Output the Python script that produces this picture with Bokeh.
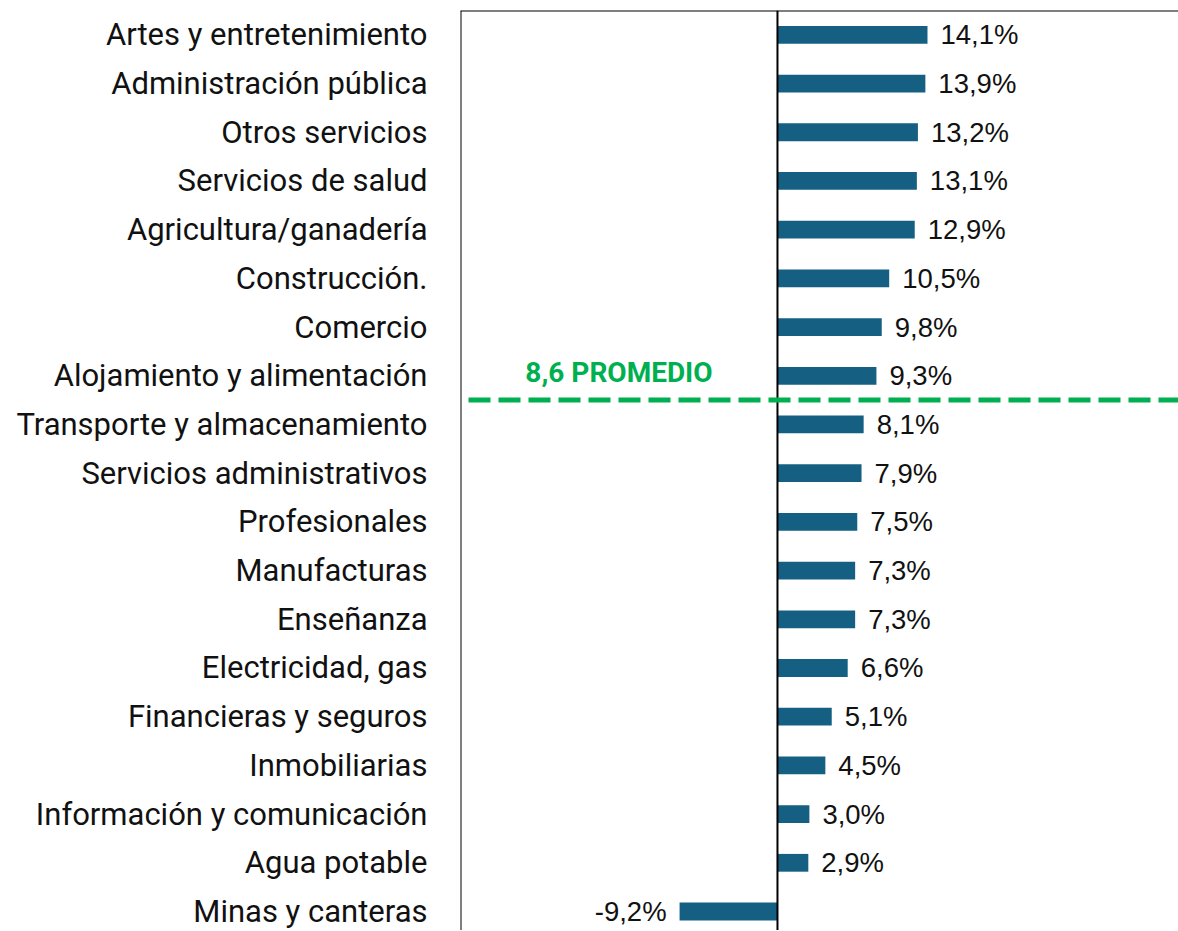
from bokeh.plotting import figure
from bokeh.models import Range1d, Span, FixedTicker, ColumnDataSource
from bokeh.core.properties import value
from bokeh.embed import file_html
from bokeh.resources import INLINE

categories = [
    "Artes y entretenimiento", "Administración pública", "Otros servicios",
    "Servicios de salud", "Agricultura/ganadería", "Construcción.", "Comercio",
    "Alojamiento y alimentación", "Transporte y almacenamiento",
    "Servicios administrativos", "Profesionales", "Manufacturas", "Enseñanza",
    "Electricidad, gas", "Financieras y seguros", "Inmobiliarias",
    "Información y comunicación", "Agua potable", "Minas y canteras",
]
values = [14.1, 13.9, 13.2, 13.1, 12.9, 10.5, 9.8, 9.3, 8.1, 7.9, 7.5, 7.3,
          7.3, 6.6, 5.1, 4.5, 3.0, 2.9, -9.2]
promedio = 8.6
promedio_label = "8,6 PROMEDIO"

BAR = "#156082"
GREEN = "#00B050"

idx = list(range(len(categories)))
labels = [f"{v:.1f}".replace(".", ",") + "%" for v in values]

x0, x1 = -29.79, 37.69
p = figure(width=1178, height=930, output_backend="svg", toolbar_location=None,
           x_range=Range1d(x0, x1), y_range=Range1d(18.39, -0.5),
           x_axis_location=None, min_border_left=460, min_border_right=0,
           min_border_top=10, min_border_bottom=0)
p.outline_line_color = None
p.xgrid.visible = False
p.ygrid.visible = False
p.background_fill_color = "white"
p.border_fill_color = "white"

ya = p.yaxis[0]
ya.ticker = FixedTicker(ticks=idx)
ya.major_label_overrides = {i: c for i, c in zip(idx, categories)}
ya.axis_line_color = None
ya.major_tick_line_color = None
ya.minor_tick_line_color = None
ya.major_tick_out = 0
ya.major_tick_in = 0
ya.major_label_standoff = 33
ya.major_label_text_font = "Roboto"
ya.major_label_text_font_size = "31px"
ya.major_label_text_color = "#111111"

src = ColumnDataSource(dict(y=idx, v=values, lab=labels))
p.hbar(y="y", left=0, right="v", height=0.365, source=src, color=BAR, line_color=None)

pos = ColumnDataSource(dict(y=[i for i in idx if values[i] >= 0],
                            v=[values[i] for i in idx if values[i] >= 0],
                            lab=[labels[i] for i in idx if values[i] >= 0]))
neg = ColumnDataSource(dict(y=[i for i in idx if values[i] < 0],
                            v=[values[i] for i in idx if values[i] < 0],
                            lab=[labels[i] for i in idx if values[i] < 0]))
common = dict(text_font=value("Liberation Sans"), text_font_size="27.5px",
              text_baseline="middle", text_color="#111111")
p.text(x="v", y="y", text="lab", source=pos, text_align="left", x_offset=13, **common)
p.text(x="v", y="y", text="lab", source=neg, text_align="right", x_offset=-13, **common)

# frame borders (top, left) and zero line
p.add_layout(Span(location=-0.5, dimension="width", line_color="black", line_width=2))
p.add_layout(Span(location=x0, dimension="height", line_color="black", line_width=2))
p.add_layout(Span(location=0, dimension="height", line_color="black", line_width=2))

# average line: between last row above average and first row below
last_above = max(i for i in idx if values[i] > promedio)
yline = last_above + 0.5
p.add_layout(Span(location=yline, dimension="width", line_color=GREEN, line_width=5,
                  line_dash="22 8", line_dash_offset=22))
p.text(x=[(x0 + 0) / 2], y=[yline - 0.5], text=[promedio_label], text_align="center",
       text_baseline="middle", y_offset=-3, text_font=value("Roboto"), text_font_style="bold",
       text_font_size="28px", text_color=GREEN)

open("out.html", "w").write(file_html(p, INLINE))
